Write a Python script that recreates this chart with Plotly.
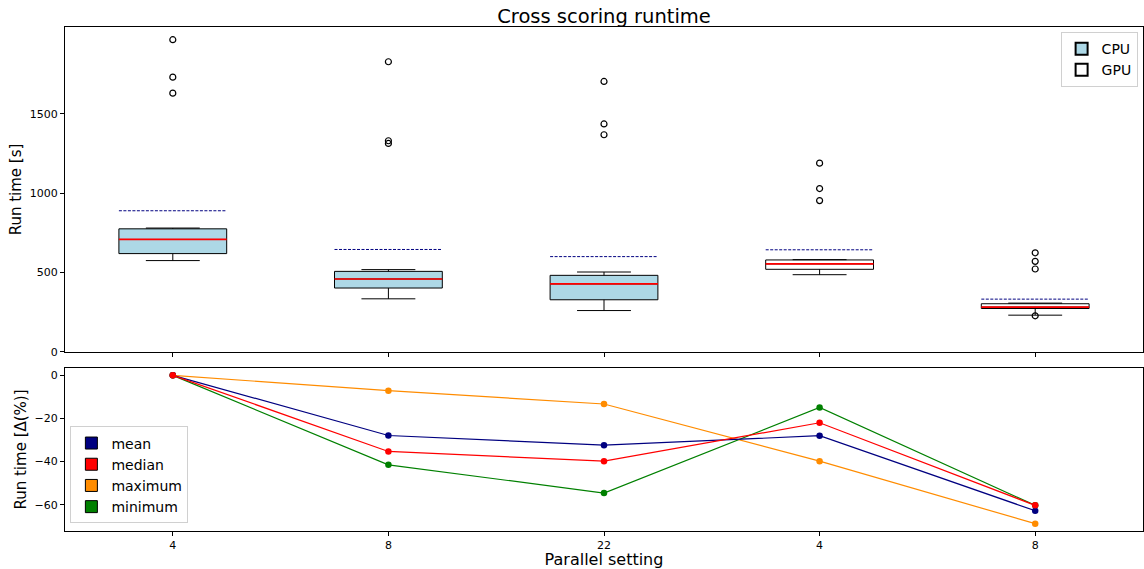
import plotly.graph_objects as go

# ---------------- data ----------------
tick_labels = ["4", "8", "22", "4", "8"]
devices = ["CPU", "CPU", "CPU", "GPU", "GPU"]

q1 = [620, 403, 329, 521, 274]
median = [709, 460, 429, 555, 283]
q3 = [776, 508, 483, 580, 304]
lowerfence = [576, 335, 261, 487, 232]
upperfence = [781, 519, 504, 582, 308]
mean = [890, 646, 601, 644, 333]
outliers = [
    [1968, 1732, 1631],
    [1829, 1331, 1314],
    [1705, 1437, 1369],
    [1190, 1030, 954],
    [625, 571, 523, 228],
]

mean_pct = [0, -27.9, -32.4, -28.0, -62.8]
median_pct = [0, -35.3, -39.8, -22.0, -60.3]
max_pct = [0, -7.1, -13.3, -39.8, -68.8]
min_pct = [0, -41.5, -54.6, -14.9, -60.3]

# ---------------- figure ----------------
FONT = "DejaVu Sans"
pos = list(range(len(tick_labels)))
half = 0.25
fig = go.Figure()

fills = {"CPU": "lightblue", "GPU": "white"}
for dev in ["CPU", "GPU"]:
    idx = [i for i, d in enumerate(devices) if d == dev]
    fig.add_trace(go.Box(
        name=dev,
        x=[pos[i] for i in idx],
        q1=[q1[i] for i in idx],
        median=[median[i] for i in idx],
        q3=[q3[i] for i in idx],
        lowerfence=[lowerfence[i] for i in idx],
        upperfence=[upperfence[i] for i in idx],
        width=0.5,
        whiskerwidth=0.5,
        fillcolor=fills[dev],
        line=dict(color="black", width=1),
        boxpoints=False,
        hoverinfo="skip",
        xaxis="x", yaxis="y",
        legend="legend",
    ))

# median (red) and mean (dashed navy) segments
mx, my, ax_, ay = [], [], [], []
for i in pos:
    mx += [i - half, i + half, None]
    my += [median[i], median[i], None]
    ax_ += [i - half, i + half, None]
    ay += [mean[i], mean[i], None]
fig.add_trace(go.Scatter(x=mx, y=my, mode="lines", line=dict(color="red", width=1.7),
                         showlegend=False, hoverinfo="skip", xaxis="x", yaxis="y"))
fig.add_trace(go.Scatter(x=ax_, y=ay, mode="lines", line=dict(color="navy", width=1, dash="3px,1.5px"),
                         showlegend=False, hoverinfo="skip", xaxis="x", yaxis="y"))

ox, oy = [], []
for i in pos:
    for v in outliers[i]:
        ox.append(i)
        oy.append(v)
fig.add_trace(go.Scatter(x=ox, y=oy, mode="markers",
                         marker=dict(symbol="circle-open", color="black", size=6, line=dict(width=1.2)),
                         showlegend=False, hoverinfo="skip", xaxis="x", yaxis="y"))

# ---------------- lower panel ----------------
series = [
    ("minimum", min_pct, "green"),
    ("maximum", max_pct, "darkorange"),
    ("mean", mean_pct, "navy"),
    ("median", median_pct, "red"),
]
for name, vals, col in series:
    fig.add_trace(go.Scatter(x=pos, y=vals, mode="lines+markers", name=name,
                             line=dict(color=col, width=1.2), marker=dict(color=col, size=6.5),
                             showlegend=False, xaxis="x2", yaxis="y2"))

for name, col in [("mean", "navy"), ("median", "red"), ("maximum", "darkorange"), ("minimum", "green")]:
    fig.add_trace(go.Bar(x=[None], y=[None], name=name,
                         marker=dict(color=col, line=dict(color="black", width=1)),
                         xaxis="x2", yaxis="y2", legend="legend2", showlegend=True))

axis_common = dict(showline=True, mirror=True, linecolor="black", linewidth=1,
                   ticks="outside", ticklen=4, tickcolor="black", showgrid=False, zeroline=False,
                   tickfont=dict(family=FONT, size=11, color="black"))

fig.update_layout(
    width=1144, height=569,
    margin=dict(l=65, r=1, t=27, b=38),
    plot_bgcolor="white", paper_bgcolor="white",
    font=dict(family=FONT, color="black"),
    title=dict(text="Cross scoring runtime", x=0.5, xref="paper", xanchor="center",
               y=1 - 16 / 569, yref="container", yanchor="middle",
               font=dict(family=FONT, size=19.5, color="black")),
    boxmode="overlay",
    barmode="overlay",
    xaxis=dict(domain=[0, 1], range=[-0.5, 4.5], tickvals=pos, ticktext=[""] * len(pos),
               anchor="y", **axis_common),
    yaxis=dict(domain=[0.3552, 1], range=[0, 2048], tickvals=[0, 500, 1000, 1500],
               title=dict(text="Run time [s]", font=dict(family=FONT, size=15), standoff=4),
               anchor="x", **axis_common),
    xaxis2=dict(domain=[0, 1], range=[-0.5, 4.5], tickvals=pos, ticktext=tick_labels,
                title=dict(text="Parallel setting", font=dict(family=FONT, size=16), standoff=1),
                anchor="y2", **axis_common),
    yaxis2=dict(domain=[0, 0.3234], range=[-72.2, 3.4], tickvals=[0, -20, -40, -60],
                title=dict(text="Run time [Δ(%)]", font=dict(family=FONT, size=15), standoff=4),
                anchor="x2", **axis_common),
    legend=dict(x=0.995, y=0.99, xanchor="right", yanchor="top", bgcolor="white",
                bordercolor="#d0d0d0", borderwidth=1, font=dict(family=FONT, size=14),
                tracegroupgap=0, itemsizing="constant"),
    legend2=dict(x=0.005, y=0.015, xanchor="left", yanchor="bottom", bgcolor="white",
                 bordercolor="#d0d0d0", borderwidth=1, font=dict(family=FONT, size=14),
                 tracegroupgap=0, traceorder="normal"),
)

fig.write_html("out.html")
